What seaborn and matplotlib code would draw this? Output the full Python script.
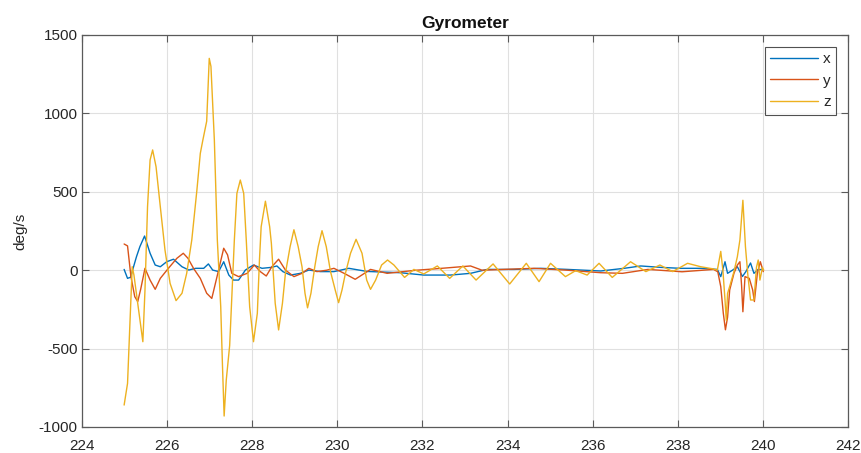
import numpy as np
import pandas as pd
import matplotlib
matplotlib.use("Agg")
import matplotlib.pyplot as plt
import seaborn as sns

# ---- data ----
x_t = [224.99, 225.07, 225.14, 225.28, 225.36, 225.47, 225.60, 225.72, 225.84, 225.99,
       226.15, 226.35, 226.51, 226.67, 226.86, 226.97, 227.07, 227.21, 227.33, 227.45,
       227.56, 227.68, 227.84, 227.96, 228.03, 228.23, 228.45, 228.58, 228.72,
       228.90, 229.13, 229.33, 229.60, 229.92, 230.27, 230.70, 231.48, 232.03, 232.66,
       233.13, 233.52, 234.15, 234.78, 235.41, 236.19, 236.74, 237.13, 237.60, 238.07,
       238.54, 238.93, 239.01, 239.11, 239.17, 239.29, 239.40, 239.52, 239.60, 239.71,
       239.79, 239.88, 239.99]
x_v = [5, -52, -45, 86, 150, 218, 108, 33, 22, 54,
       70, 22, 1, 12, 12, 40, 1, -9, 54, -31,
       -63, -63, 1, 22, 33, 12, 18, 27, -9,
       -31, -20, 1, -9, -9, 12, -8, -16, -31, -31,
       -20, 5, 5, 12, 5, -5, 12, 27, 18, 12,
       12, 5, -41, 54, -20, 1, 22, -40, -9, 46,
       -20, 3, 5]

y_t = [224.99, 225.07, 225.15, 225.24, 225.31, 225.38, 225.48, 225.60, 225.72, 225.84,
       226.03, 226.23, 226.38, 226.49, 226.62, 226.78, 226.93, 227.05, 227.21, 227.33,
       227.42, 227.52, 227.68, 227.88, 228.05, 228.19, 228.33, 228.46, 228.62, 228.78,
       228.98, 229.17, 229.33, 229.52, 229.75, 229.92, 230.16, 230.42, 230.78, 231.17,
       231.86, 232.27, 233.13, 233.40, 234.62, 235.40, 236.19, 236.70, 237.30, 238.10,
       238.84, 238.94, 239.01, 239.07, 239.12, 239.17, 239.22, 239.32, 239.40, 239.46,
       239.50, 239.53, 239.58, 239.68, 239.76, 239.80, 239.87, 239.94, 240.01]
y_v = [167, 155, -41, -169, -200, -120, 12, -63, -122, -52,
       12, 76, 108, 76, 12, -52, -147, -180, 1, 140,
       98, -20, -41, -20, 33, -9, -37, 22, 70, 1,
       -41, -20, 12, -9, 0, 12, -20, -58, 5, -20,
       0, 8, 27, 0, 12, 0, -16, -20, 5, -10,
       5, -10, -105, -275, -380, -300, -126, -20, 33, 54,
       -100, -265, -41, -52, -126, -200, -20, 54, -9]

z_t = [224.99, 225.07, 225.12, 225.18, 225.22, 225.32, 225.43, 225.48, 225.54, 225.60,
       225.66, 225.74, 225.84, 225.95, 226.07, 226.21, 226.35, 226.46, 226.58, 226.70,
       226.78, 226.84, 226.93, 226.99, 227.03, 227.11, 227.18, 227.26, 227.30, 227.34,
       227.39, 227.47, 227.58, 227.64, 227.72, 227.80, 227.86, 227.94, 228.03, 228.12,
       228.17, 228.21, 228.31, 228.41, 228.45, 228.54, 228.62, 228.71, 228.78, 228.89,
       228.98, 229.08, 229.17, 229.24, 229.30, 229.38, 229.47, 229.55, 229.64, 229.74,
       229.84, 229.95, 230.03, 230.11, 230.19, 230.31, 230.44, 230.58, 230.69, 230.78,
       230.90, 231.04, 231.18, 231.33, 231.58, 231.80, 232.03, 232.35, 232.64,
       232.95, 233.26, 233.66, 234.05, 234.44, 234.74, 235.01, 235.36, 235.60, 235.87,
       236.15, 236.46, 236.89, 237.25, 237.58, 237.88, 238.23, 238.54, 238.80, 238.93,
       239.01, 239.06, 239.11, 239.14, 239.17, 239.23, 239.32, 239.40, 239.46, 239.53,
       239.59, 239.65, 239.71, 239.79, 239.85, 239.89, 239.93, 239.99, 240.02]
z_v = [-860, -722, -381, 22, -30, -233, -456, -126, 405, 703,
       767, 660, 405, 129, -84, -194, -147, -20, 193, 511,
       745, 830, 950, 1351, 1300, 830, 193, -233, -600, -930,
       -700, -480, 193, 490, 575, 490, 193, -233, -456, -275,
       65, 277, 440, 277, 171, -211, -381, -211, -20, 150,
       258, 150, 22, -147, -240, -147, 22, 150, 252, 150,
       -9, -126, -207, -126, -20, 108, 197, 108, -63, -122,
       -63, 33, 65, 33, -46, 5, -24, 27, -52,
       27, -63, 40, -88, 44, -73, 44, -41, -3, -31,
       44, -46, 54, -9, 33, -9, 44, 22, 10, 1,
       120, 0, -190, -320, -148, -94, -9, 86, 193, 446,
       150, -41, -190, -190, 20, 65, -63, 18, 0]

series_names = ["x", "y", "z"]
colors = ["#0072BD", "#D95319", "#EDB120"]
title = "Gyrometer"
ylabel = "deg/s"
xticks = list(range(224, 243, 2))
yticks = list(range(-1000, 1501, 500))

df = pd.concat([
    pd.DataFrame({"t": x_t, "v": x_v, "axis": "x"}),
    pd.DataFrame({"t": y_t, "v": y_v, "axis": "y"}),
    pd.DataFrame({"t": z_t, "v": z_v, "axis": "z"}),
], ignore_index=True)

sns.set_style("white")
plt.rcParams["font.family"] = ["Liberation Sans", "DejaVu Sans"]
plt.rcParams["axes.unicode_minus"] = False

fig = plt.figure(figsize=(8.61, 4.53), dpi=100)
ax = fig.add_axes([82/861, 26/453, (848-82)/861, (427-35)/453])

sns.lineplot(data=df, x="t", y="v", hue="axis", hue_order=series_names,
             palette=colors, estimator=None, sort=True, linewidth=1.0, ax=ax)

ax.set_xlim(224, 242)
ax.set_ylim(-1000, 1500)
ax.set_xticks(xticks)
ax.set_yticks(yticks)
ax.grid(True, color="#e0e0e0", linewidth=0.8)
ax.set_axisbelow(True)
for s in ax.spines.values():
    s.set_color("#5a5a5a")
    s.set_linewidth(0.9)
ax.tick_params(direction="in", length=5, width=0.8, color="#5a5a5a",
               labelsize=11, labelcolor="#262626",
               top=True, right=True, bottom=True, left=True, pad=3)
ax.tick_params(axis="x", pad=9)
ax.set_xlabel("")
ax.set_ylabel(ylabel, fontsize=11, color="#262626", labelpad=8)
ax.set_title(title, fontsize=12.5, fontweight="bold", color="#111111", pad=5)

leg = ax.legend(loc="upper right", bbox_to_anchor=(0.9845, 0.97), fontsize=11,
                frameon=True, fancybox=False, edgecolor="#262626",
                handlelength=3.1, handletextpad=0.35, borderpad=0.35,
                labelspacing=0.5, borderaxespad=0)
leg.get_frame().set_linewidth(0.8)
leg.set_title(None)

fig.savefig("out.png", dpi=100)
